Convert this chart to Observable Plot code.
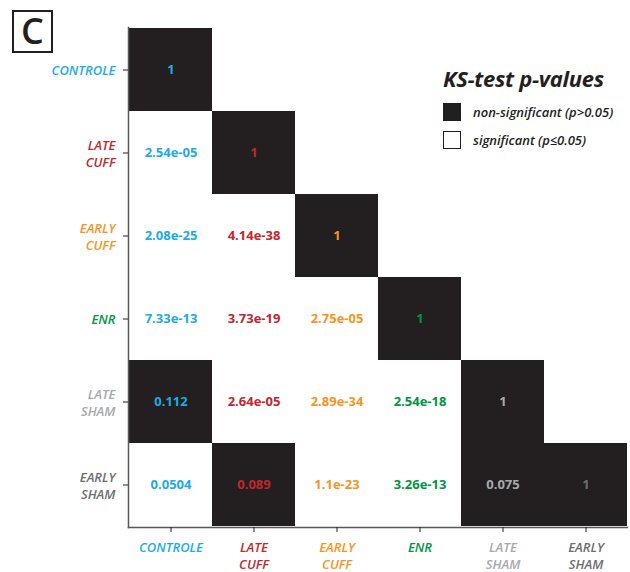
<!DOCTYPE html>
<html><head><meta charset="utf-8">
<script src="https://cdn.jsdelivr.net/npm/d3@7"></script>
<script src="https://cdn.jsdelivr.net/npm/@observablehq/plot@0.6"></script>
<style>
body{margin:0;background:#fff;font-family:"Open Sans",sans-serif;}
#wrap{position:relative;width:630px;height:572px;}
#panel{position:absolute;left:12px;top:10px;width:37px;height:39px;border:2.5px solid #231f20;font-size:36px;line-height:38px;text-align:center;color:#231f20;font-family:"Open Sans",sans-serif;font-weight:600;}
#legend{position:absolute;left:443px;top:63px;color:#231f20;}
#legend .t{font-size:22px;font-weight:700;font-style:italic;letter-spacing:-0.3px;margin-bottom:10px;}
#legend .r{display:flex;align-items:center;font-size:13px;font-style:italic;font-weight:600;height:18px;margin-bottom:10px;}
#legend .sw{width:18px;height:18px;margin-right:12px;box-sizing:border-box;border:1.5px solid #231f20;}
</style></head>
<body><div id="wrap"><div id="chart"></div>
<div id="panel">C</div>
<div id="legend"><div class="t">KS-test p-values</div>
<div class="r"><div class="sw" style="background:#231f20"></div>non-significant (p&gt;0.05)</div>
<div class="r"><div class="sw" style="background:#fff"></div>significant (p≤0.05)</div></div>
</div>
<script>
const categories = ["CONTROLE","LATE CUFF","EARLY CUFF","ENR","LATE SHAM","EARLY SHAM"];
const categoryColors = ["#1cabe2","#c1272d","#f7941d","#009444","#a7a9ac","#6d6e71"];
// lower-triangular p-value labels, row by row
const pLabels = [
  ["1"],
  ["2.54e-05","1"],
  ["2.08e-25","4.14e-38","1"],
  ["7.33e-13","3.73e-19","2.75e-05","1"],
  ["0.112","2.64e-05","2.89e-34","2.54e-18","1"],
  ["0.0504","0.089","1.1e-23","3.26e-13","0.075","1"]
];
// non-significant (black) cells as shown in the figure
const nonSignificant = [
  [1],
  [0,1],
  [0,0,1],
  [0,0,0,1],
  [1,0,0,0,1],
  [0,1,0,0,1,1]
];
const colorOf = Object.fromEntries(categories.map((c,i)=>[c,categoryColors[i]]));
const cells = [];
pLabels.forEach((row,i)=>row.forEach((lab,j)=>cells.push({row:categories[i],col:categories[j],label:lab,ns:nonSignificant[i][j]})));

const fmt = d => d.replace(" ","\n");
const chart = Plot.plot({
  width:630, height:572,
  marginLeft:128, marginTop:27, marginRight:3, marginBottom:45,
  style:{fontFamily:"'Open Sans',sans-serif", background:"#fff"},
  x:{type:"band", domain:categories, padding:0, axis:null},
  y:{type:"band", domain:categories, padding:0, axis:null},
  marks:[
    Plot.cell(cells.filter(d=>d.ns), {x:"col", y:"row", fill:"#231f20", inset:0}),
    Plot.text(cells, {x:"col", y:"row", text:"label", fill:d=>colorOf[d.col], fontSize:13, fontWeight:700}),
    Plot.frame({anchor:"left", stroke:"#58595b", strokeWidth:1.5}),
    Plot.frame({anchor:"bottom", stroke:"#58595b", strokeWidth:1.5}),
    Plot.axisX({tickSize:5, tickPadding:8, tickFormat:fmt, fill:d=>colorOf[d], stroke:"#231f20", fontSize:13, fontStyle:"italic", fontWeight:600, lineHeight:1.28, label:null}),
    Plot.axisY({tickSize:5, tickPadding:8, tickFormat:fmt, fill:d=>colorOf[d], stroke:"#231f20", fontSize:13, fontStyle:"italic", fontWeight:600, lineHeight:1.3, label:null})
  ]
});
document.getElementById("chart").appendChild(chart);
</script></body></html>
